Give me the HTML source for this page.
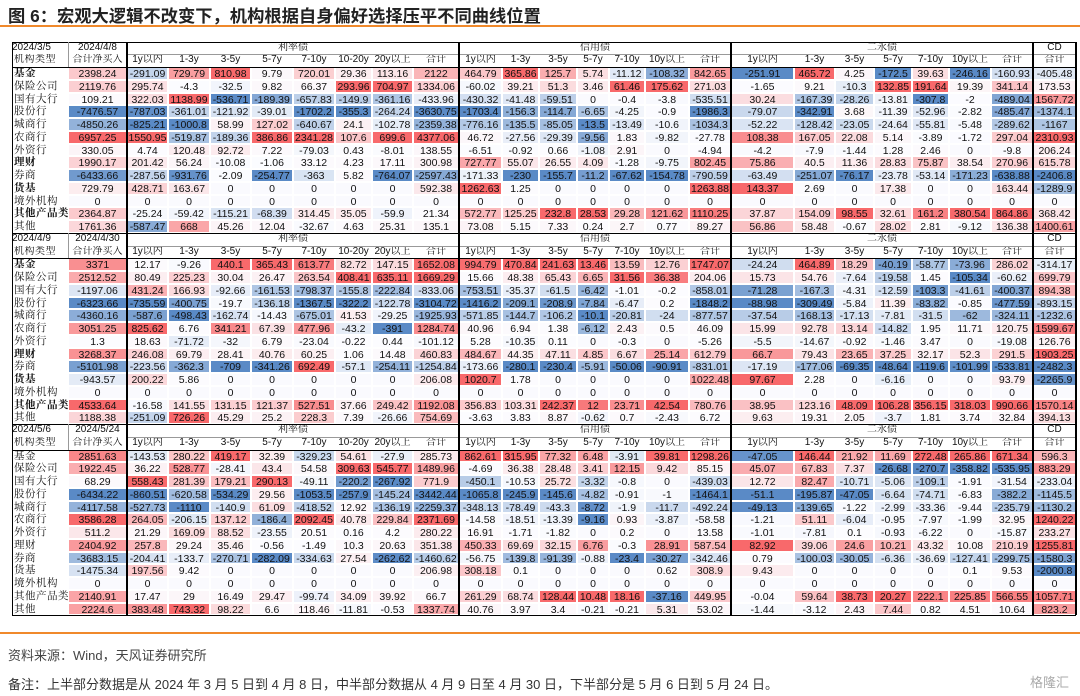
<!DOCTYPE html>
<html><head><meta charset="utf-8">
<style>
body{margin:0;width:1080px;height:696px;background:#fff;position:relative;overflow:hidden;font-family:"Liberation Sans","Noto Sans CJK SC",sans-serif;}
.c{position:absolute;box-sizing:border-box;font-size:10.5px;line-height:12px;text-align:center;color:#111;white-space:nowrap;overflow:hidden;}
.lab{text-align:left;padding-left:2px;font-family:"Liberation Sans","Noto Serif CJK SC",serif;letter-spacing:0.5px;}
.hd{font-family:"Liberation Sans","Noto Serif CJK SC",sans-serif;font-size:10px;}
.ln{position:absolute;background:#000;}
</style></head><body>
<div style="position:absolute;left:8px;top:2px;font-size:17.3px;font-weight:bold;color:#222;font-family:'Liberation Sans','Noto Sans CJK SC',sans-serif;">图 6：宏观大逻辑不改变下，机构根据自身偏好选择压平不同曲线位置</div>
<div style="position:absolute;left:0;top:25px;width:1080px;height:2px;background:#f0892b;"></div>
<div id="tbl"></div>
<div style="position:absolute;left:0;top:632px;width:1080px;height:2px;background:#f0892b;"></div>
<div style="position:absolute;left:8px;top:645px;font-size:13px;color:#444;font-family:'Liberation Sans','Noto Sans CJK SC',sans-serif;">资料来源：Wind，天风证券研究所</div>
<div style="position:absolute;left:8px;top:674px;font-size:13px;color:#333;font-family:'Liberation Sans','Noto Sans CJK SC',sans-serif;">备注：上半部分数据是从 2024 年 3 月 5 日到 4 月 8 日，中半部分数据从 4 月 9 日至 4 月 30 日，下半部分是 5 月 6 日到 5 月 24 日。</div>
<div style="position:absolute;left:1030px;top:672px;font-size:13px;color:#aaa;font-family:'Noto Sans CJK SC',sans-serif;">格隆汇</div>
<script>
const institutions=["基金","保险公司","国有大行","股份行","城商行","农商行","外资行","理财","券商","货基","境外机构","其他产品类","其他"];
const boldRows=[0,7,9,11];
const periods=[["2024/3/5","2024/4/8"],["2024/4/9","2024/4/30"],["2024/5/6","2024/5/24"]];
const colNames=["合计净买入","1y以内","1-3y","3-5y","5-7y","7-10y","10-20y","20y以上","合计","1y以内","1-3y","3-5y","5-7y","7-10y","10y以上","合计","1y以内","1-3y","3-5y","5-7y","7-10y","10y以上","合计","合计"];
const groups=[["利率债",1,8],["信用债",9,15],["二永债",16,22],["CD",23,23]];
const Z=[0,0,0,0,0,0,0,0,0,0,0,0,0,0,0,0,0,0,0,0,0,0,0,0];
const block1=[
[2398.24,-291.09,729.79,810.98,9.79,720.01,29.36,113.16,2122,464.79,365.86,125.7,5.74,-11.12,-108.32,842.65,-251.91,465.72,4.25,-172.5,39.63,-246.16,-160.93,-405.48],
[2119.76,295.74,-4.3,-32.5,9.82,66.37,293.96,704.97,1334.06,-60.02,39.21,51.3,3.46,61.46,175.62,271.03,-1.65,9.21,-10.3,132.85,191.64,19.39,341.14,173.53],
[109.21,322.03,1138.99,-536.71,-189.39,-657.83,-149.9,-361.16,-433.96,-430.32,-41.48,-59.51,0,-0.4,-3.8,-535.51,30.24,-167.39,-28.26,-13.81,-307.8,-2,-489.04,1567.72],
[-7476.57,-787.03,-361.01,-121.92,-39.01,-1702.2,-355.3,-264.24,-3630.75,-1703.4,-156.3,-114.7,-6.65,-4.25,-0.9,-1986.3,-79.07,-342.91,3.68,-11.39,-52.96,-2.82,-485.47,-1374.1],
[-4850.26,-825.21,-1000.8,58.99,127.02,-640.67,24.1,-102.78,-2359.38,-776.16,-135.5,-85.05,-13.5,-13.49,-10.6,-1034.3,-52.22,-128.42,-23.05,-24.64,-55.81,-5.48,-289.62,-1167],
[6957.25,1550.95,-519.87,-189.36,386.86,2341.28,107.6,699.6,4377.06,46.72,-27.56,-29.39,-9.56,1.83,-9.82,-27.78,108.38,167.05,22.08,5.14,-3.89,-1.72,297.04,2310.93],
[330.05,4.74,120.48,92.72,7.22,-79.03,0.43,-8.01,138.55,-6.51,-0.92,0.66,-1.08,2.91,0,-4.94,-4.2,-7.9,-1.44,1.28,2.46,0,-9.8,206.24],
[1990.17,201.42,56.24,-10.08,-1.06,33.12,4.23,17.11,300.98,727.77,55.07,26.55,4.09,-1.28,-9.75,802.45,75.86,40.5,11.36,28.83,75.87,38.54,270.96,615.78],
[-6433.66,-287.56,-931.76,-2.09,-254.77,-363,5.82,-764.07,-2597.43,-171.33,-230,-155.7,-11.2,-67.62,-154.78,-790.59,-63.49,-251.07,-76.17,-23.78,-53.14,-171.23,-638.88,-2406.8],
[729.79,428.71,163.67,0,0,0,0,0,592.38,1262.63,1.25,0,0,0,0,1263.88,143.37,2.69,0,17.38,0,0,163.44,-1289.9],
Z,
[2364.87,-25.24,-59.42,-115.21,-68.39,314.45,35.05,-59.9,21.34,572.77,125.25,232.8,28.53,29.28,121.62,1110.25,37.87,154.09,98.55,32.61,161.2,380.54,864.86,368.42],
[1761.36,-587.47,668,45.26,12.04,-32.67,4.63,25.31,135.1,73.08,5.15,7.33,0.24,2.7,0.77,89.27,56.86,58.48,-0.67,28.02,2.81,-9.12,136.38,1400.61]];
const block2=[
[3371,12.17,-9.26,440.1,365.43,613.77,82.72,147.15,1652.08,994.79,470.84,241.63,13.46,13.59,12.76,1747.07,-24.24,464.89,18.29,-40.19,-58.77,-73.96,286.02,-314.17],
[2512.52,80.49,225.23,30.04,26.47,263.54,408.41,635.11,1669.29,15.66,48.38,65.43,6.65,31.56,36.38,204.06,15.73,54.76,-7.64,-19.58,1.45,-105.34,-60.62,699.79],
[-1197.06,431.24,166.93,-92.66,-161.53,-798.37,-155.8,-222.84,-833.06,-753.51,-35.37,-61.5,-6.42,-1.01,-0.2,-858.01,-71.28,-167.3,-4.31,-12.59,-103.3,-41.61,-400.37,894.38],
[-6323.66,-735.59,-400.75,-19.7,-136.18,-1367.5,-322.2,-122.78,-3104.72,-1416.2,-209.1,-208.9,-7.84,-6.47,0.2,-1848.2,-88.98,-309.49,-5.84,11.39,-83.82,-0.85,-477.59,-893.15],
[-4360.16,-587.6,-498.43,-162.74,-14.43,-675.01,41.53,-29.25,-1925.93,-571.85,-144.7,-106.2,-10.1,-20.81,-24,-877.57,-37.54,-168.13,-17.13,-7.81,-31.5,-62,-324.11,-1232.6],
[3051.25,825.62,6.76,341.21,67.39,477.96,-43.2,-391,1284.74,40.96,6.94,1.38,-6.12,2.43,0.5,46.09,15.99,92.78,13.14,-14.82,1.95,11.71,120.75,1599.67],
[1.3,18.63,-71.72,-32,6.79,-23.04,-0.22,0.44,-101.12,5.28,-10.35,0.11,0,-0.3,0,-5.26,-5.5,-14.67,-0.92,-1.46,3.47,0,-19.08,126.76],
[3268.37,246.08,69.79,28.41,40.76,60.25,1.06,14.48,460.83,484.67,44.35,47.11,4.85,6.67,25.14,612.79,66.7,79.43,23.65,37.25,32.17,52.3,291.5,1903.25],
[-5101.98,-223.56,-362.3,-709,-341.26,692.49,-57.1,-254.11,-1254.84,-173.66,-280.1,-230.4,-5.91,-50.06,-90.91,-831.01,-17.19,-177.06,-69.35,-48.64,-119.6,-101.99,-533.81,-2482.3],
[-943.57,200.22,5.86,0,0,0,0,0,206.08,1020.7,1.78,0,0,0,0,1022.48,97.67,2.28,0,-6.16,0,0,93.79,-2265.9],
Z,
[4533.64,-16.58,141.55,131.15,121.37,527.51,37.66,249.42,1192.08,356.83,103.31,242.37,12,23.71,42.54,780.76,38.95,123.16,48.09,106.28,356.15,318.03,990.66,1570.14],
[1188.38,-251.09,726.26,45.29,25.2,228.3,7.39,-26.66,754.69,-3.63,3.83,8.87,-0.62,0.7,-2.43,6.72,9.63,19.31,2.05,-3.7,1.81,3.74,32.84,394.13]];
const block3=[
[2851.63,-143.53,280.22,419.17,32.39,-329.23,54.61,-27.9,285.73,862.61,315.95,77.32,6.48,-3.91,39.81,1298.26,-47.05,146.44,21.92,11.69,272.48,265.86,671.34,596.3],
[1922.45,36.22,528.77,-28.41,43.4,54.58,309.63,545.77,1489.96,-4.69,36.38,28.48,3.41,12.15,9.42,85.15,45.07,67.83,7.37,-26.68,-270.7,-358.82,-535.95,883.29],
[68.29,558.43,281.39,179.21,290.13,-49.11,-220.2,-267.92,771.9,-450.1,-10.53,25.72,-3.32,-0.8,0,-439.03,12.72,82.47,-10.71,-5.06,-109.1,-1.91,-31.54,-233.04],
[-6434.22,-860.51,-620.58,-534.29,29.56,-1053.5,-257.9,-145.24,-3442.44,-1065.8,-245.9,-145.6,-4.82,-0.91,-1,-1464.1,-51.1,-195.87,-47.05,-6.64,-74.71,-6.83,-382.2,-1145.5],
[-4117.58,-527.73,-1110,-140.9,61.09,-418.52,12.92,-136.19,-2259.37,-348.13,-78.49,-43.3,-8.72,-1.9,-11.7,-492.24,-49.13,-139.65,-1.22,-2.99,-33.36,-9.44,-235.79,-1130.2],
[3586.28,264.05,-206.15,137.12,-186.4,2092.45,40.78,229.84,2371.69,-14.58,-18.51,-13.39,-9.16,0.93,-3.87,-58.58,-1.21,51.11,-6.04,-0.95,-7.97,-1.99,32.95,1240.22],
[511.2,21.29,169.09,88.52,-23.55,20.51,0.16,4.2,280.22,16.91,-1.71,-1.82,0,0.2,0,13.58,-1.01,-7.81,0.1,-0.93,-6.22,0,-15.87,233.27],
[2404.92,257.8,29.24,35.46,-0.56,-1.49,10.3,20.63,351.38,450.33,69.69,32.15,6.76,-0.3,28.91,587.54,82.92,39.06,24.6,10.21,43.32,10.08,210.19,1255.81],
[-3683.15,-204.41,-133.7,-270.71,-282.09,-334.63,27.54,-262.62,-1460.62,-56.75,-139.8,-91.39,-0.88,-23.4,-30.27,-342.46,0.79,-100.03,-30.05,-6.36,-36.69,-127.41,-299.75,-1580.3],
[-1475.34,197.56,9.42,0,0,0,0,0,206.98,308.18,0.1,0,0,0,0.62,308.9,9.43,0,0,0,0,0.1,9.53,-2000.8],
Z,
[2140.91,17.47,29,16.49,29.47,-99.74,34.09,39.92,66.7,261.29,68.74,128.44,10.48,18.16,-37.16,449.95,-0.04,59.64,38.73,20.27,222.1,225.85,566.55,1057.71],
[2224.6,383.48,743.32,98.22,6.6,118.46,-11.81,-0.53,1337.74,40.76,3.97,3.4,-0.21,-0.21,5.31,53.02,-1.44,-3.12,2.43,7.44,0.82,4.51,10.64,823.2]];
const blocks=[block1,block2,block3];

const X=[12,68,127,168,210,251,293,335,372,413,459,502,539,577,609,645,689,731,794,835,874,912,949,991,1033,1076];
const RH=12.75, TOP=41.5;
const tbl=document.getElementById('tbl');
function mix(a,b,t){return 'rgb('+a.map((v,i)=>Math.round(v+(b[i]-v)*t)).join(',')+')';}
const W=[252,252,255],R=[248,105,107],B=[90,138,198];
function color(v,max,min){
  if(v>0&&max>0)return mix(W,R,Math.min(1,v/max));
  if(v<0&&min<0)return mix(W,B,Math.min(1,v/min));
  return 'rgb(250,250,254)';
}
function cell(x,y,w,h,txt,cls,bg,name,bold){
  const d=document.createElement('div');
  d.className='c '+(cls||'');
  d.style.left=x+'px';d.style.top=y+'px';d.style.width=w+'px';d.style.height=h+'px';
  d.style.lineHeight=h+'px';
  if(bg){d.style.background=bg;d.style.border='0.5px solid #fff';}
  if(bold)d.style.fontWeight='bold';
  d.textContent=txt;
  
  
  tbl.appendChild(d);return d;
}
function line(x,y,w,h,name,col){
  const d=document.createElement('div');d.className='ln';
  d.style.left=x+'px';d.style.top=y+'px';d.style.width=w+'px';d.style.height=h+'px';
  if(col)d.style.background=col;
  
  
  tbl.appendChild(d);
}
blocks.forEach((data,b)=>{
  const y0=TOP+b*RH*15;
  cell(X[0],y0,X[1]-X[0],RH,periods[b][0],'hd',null,'period-start').style.textAlign='left';
  cell(X[1],y0,X[2]-X[1],RH,periods[b][1],'hd',null,'period-end');
  groups.forEach(g=>{cell(X[g[1]+1],y0,X[g[2]+2]-X[g[1]+1],RH,g[0],'hd',null,'group-header');});
  cell(X[0],y0+RH,X[1]-X[0],RH,'机构类型','lab hd',null,'row-header-label');
  colNames.forEach((n,j)=>cell(X[j+1],y0+RH,X[j+2]-X[j+1],RH,n,'hd',null,'column-header'));
  const cols=colNames.length;
  const mx=[],mn=[];
  for(let j=0;j<cols;j++){mx[j]=Math.max(...data.map(r=>r[j]));mn[j]=Math.min(...data.map(r=>r[j]));}
  data.forEach((row,i)=>{
    const y=y0+RH*(2+i);
    const bold=b<2&&boldRows.includes(i);
    cell(X[0],y,X[1]-X[0],RH,institutions[i],'lab',null,'institution-label',bold);
    row.forEach((v,j)=>{
      cell(X[j+1],y,X[j+2]-X[j+1],RH,String(v),'',color(v,mx[j],mn[j]),'value-cell');
    });
  });
  const h=RH*15;
  line(X[0],y0,X[25]-X[0],1,'block-top-border');
  line(X[0],y0+h,X[25]-X[0],1.2,'block-bottom-border');
  line(X[0],y0+RH*2,X[25]-X[0],1,'header-bottom-border');
  line(X[2],y0+RH,X[25]-X[2],0.6,'header-mid-border','#999');
  line(X[0],y0,1,h,'block-left-border');
  line(X[25]-1,y0,1.5,h,'block-right-border');
  [2,10,17,24].forEach(k=>line(X[k]-1,y0,2,h,'group-divider'));
  line(X[1],y0,0.6,RH*2,'header-divider','#999');
});
</script>
</body></html>
